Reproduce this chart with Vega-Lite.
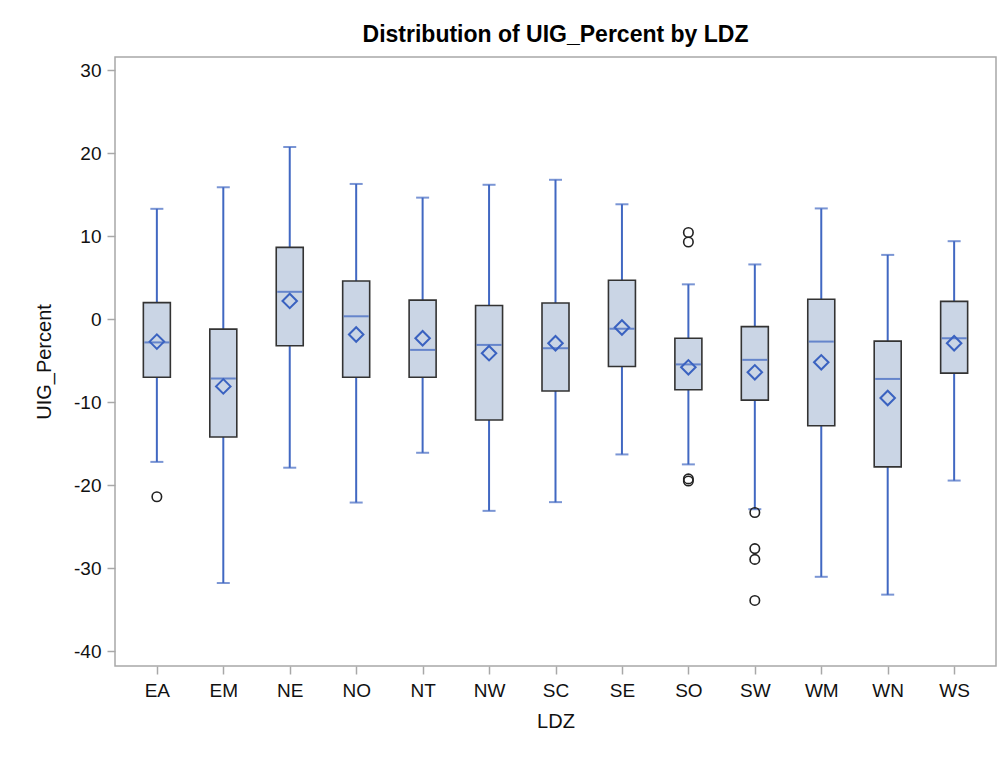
{
  "$schema": "https://vega.github.io/schema/vega-lite/v6.json",
  "autosize": "none",
  "padding": {"left": 115, "top": 57, "right": 5, "bottom": 91},
  "width": 881,
  "height": 609,
  "background": "white",
  "config": {
    "font": "Liberation Sans",
    "view": {"stroke": "#A8A8A8", "strokeWidth": 1.5},
    "axis": {
      "domain": false,
      "grid": false,
      "tickColor": "#A8A8A8",
      "tickWidth": 1.5,
      "tickSize": 8,
      "labelFont": "Liberation Sans",
      "labelFontSize": 19,
      "labelColor": "#111111",
      "titleFont": "Liberation Sans",
      "titleFontSize": 20,
      "titleFontWeight": "normal",
      "titleColor": "#111111"
    }
  },
  "title": {
    "text": "Distribution of UIG_Percent by LDZ",
    "font": "Liberation Sans",
    "fontSize": 23,
    "fontWeight": "bold",
    "color": "#000000",
    "anchor": "middle",
    "frame": "group",
    "baseline": "alphabetic",
    "offset": -8
  },
  "datasets": {
    "stats": [
      {"LDZ": "EA", "lower": -17.2, "q1": -7.0, "median": -2.8, "q3": 2.0, "upper": 13.3, "mean": -2.7},
      {"LDZ": "EM", "lower": -31.8, "q1": -14.2, "median": -7.15, "q3": -1.2, "upper": 15.9, "mean": -8.1},
      {"LDZ": "NE", "lower": -17.9, "q1": -3.2, "median": 3.3, "q3": 8.65, "upper": 20.75, "mean": 2.2},
      {"LDZ": "NO", "lower": -22.1, "q1": -7.0, "median": 0.35, "q3": 4.6, "upper": 16.3, "mean": -1.85},
      {"LDZ": "NT", "lower": -16.1, "q1": -7.0, "median": -3.7, "q3": 2.3, "upper": 14.65, "mean": -2.3},
      {"LDZ": "NW", "lower": -23.1, "q1": -12.15, "median": -3.1, "q3": 1.65, "upper": 16.2, "mean": -4.1},
      {"LDZ": "SC", "lower": -22.05, "q1": -8.65, "median": -3.5, "q3": 1.95, "upper": 16.8, "mean": -2.9},
      {"LDZ": "SE", "lower": -16.3, "q1": -5.7, "median": -1.15, "q3": 4.7, "upper": 13.85, "mean": -1.0},
      {"LDZ": "SO", "lower": -17.5, "q1": -8.5, "median": -5.45, "q3": -2.3, "upper": 4.2, "mean": -5.8},
      {"LDZ": "SW", "lower": -22.9, "q1": -9.75, "median": -4.9, "q3": -0.9, "upper": 6.6, "mean": -6.4},
      {"LDZ": "WM", "lower": -31.05, "q1": -12.85, "median": -2.7, "q3": 2.4, "upper": 13.35, "mean": -5.2},
      {"LDZ": "WN", "lower": -33.2, "q1": -17.8, "median": -7.2, "q3": -2.65, "upper": 7.75, "mean": -9.5},
      {"LDZ": "WS", "lower": -19.45, "q1": -6.5, "median": -2.3, "q3": 2.15, "upper": 9.4, "mean": -2.9}
    ],
    "outliers": [
      {"LDZ": "EA", "value": -21.4},
      {"LDZ": "SO", "value": 10.45},
      {"LDZ": "SO", "value": 9.3},
      {"LDZ": "SO", "value": -19.25},
      {"LDZ": "SO", "value": -19.5},
      {"LDZ": "SW", "value": -23.3},
      {"LDZ": "SW", "value": -27.65},
      {"LDZ": "SW", "value": -28.95},
      {"LDZ": "SW", "value": -33.9}
    ]
  },
  "encoding": {
    "x": {
      "field": "LDZ",
      "type": "nominal",
      "sort": ["EA", "EM", "NE", "NO", "NT", "NW", "SC", "SE", "SO", "SW", "WM", "WN", "WS"],
      "scale": {"type": "point", "padding": 0.63},
      "axis": {"title": "LDZ", "labelAngle": 0, "labelPadding": 7, "titlePadding": 11}
    }
  },
  "layer": [
    {
      "data": {"name": "stats"},
      "mark": {"type": "rule", "color": "#4168C2", "strokeWidth": 2},
      "encoding": {
        "y": {
          "field": "lower",
          "type": "quantitative",
          "scale": {"domain": [-41.8, 31.6], "nice": false, "zero": false},
          "axis": {"title": "UIG_Percent", "values": [-40, -30, -20, -10, 0, 10, 20, 30], "labelExpr": "toString(datum.value)", "labelPadding": 6, "titlePadding": 19}
        },
        "y2": {"field": "upper"}
      }
    },
    {
      "data": {"name": "stats"},
      "mark": {"type": "tick", "orient": "horizontal", "color": "#4168C2", "thickness": 2, "size": 13},
      "encoding": {"y": {"field": "lower", "type": "quantitative"}}
    },
    {
      "data": {"name": "stats"},
      "mark": {"type": "tick", "orient": "horizontal", "color": "#4168C2", "thickness": 2, "size": 13},
      "encoding": {"y": {"field": "upper", "type": "quantitative"}}
    },
    {
      "data": {"name": "stats"},
      "mark": {"type": "bar", "size": 27, "fill": "#CAD5E5", "stroke": "#333333", "strokeWidth": 1.6},
      "encoding": {
        "y": {"field": "q1", "type": "quantitative"},
        "y2": {"field": "q3"}
      }
    },
    {
      "data": {"name": "stats"},
      "mark": {"type": "tick", "orient": "horizontal", "color": "#3A62C0", "thickness": 2, "size": 25},
      "encoding": {"y": {"field": "median", "type": "quantitative"}}
    },
    {
      "data": {"name": "stats"},
      "mark": {"type": "point", "shape": "diamond", "filled": false, "color": "#3A62C0", "size": 210, "strokeWidth": 2, "opacity": 1},
      "encoding": {"y": {"field": "mean", "type": "quantitative"}}
    },
    {
      "data": {"name": "outliers"},
      "mark": {"type": "point", "shape": "circle", "filled": false, "color": "#222222", "size": 90, "strokeWidth": 1.6, "opacity": 1},
      "encoding": {"y": {"field": "value", "type": "quantitative"}}
    }
  ]
}
